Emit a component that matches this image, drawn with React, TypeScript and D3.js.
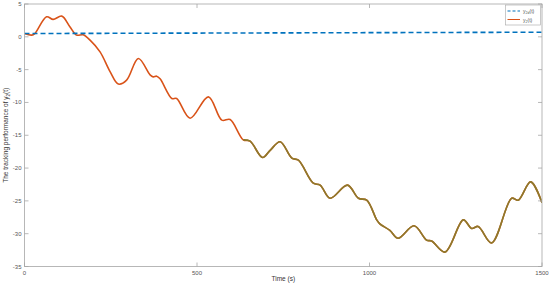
import React from "react";
import * as d3 from "d3";

const times = [0, 21, 30, 64, 83, 108, 132, 151, 170, 190, 219, 248, 272, 296, 330, 364, 373, 383, 393, 427, 441, 480, 533, 572, 596, 634, 654, 690, 712, 741, 775, 794, 837, 857, 886, 936, 968, 992, 1021, 1030, 1059, 1083, 1129, 1166, 1180, 1219, 1272, 1296, 1315, 1354, 1412, 1431, 1467, 1500];
const y2Values = [0.5, 0.26, 0.5, 3.05, 2.65, 3.15, 1.5, 0.26, 0.3, -0.5, -2.3, -5.3, -7.2, -6.6, -3.3, -5.8, -6.1, -6.0, -6.4, -9.4, -9.4, -12.4, -9.15, -12.7, -12.6, -15.7, -15.9, -18.4, -17.3, -16.0, -18.5, -18.8, -22.3, -22.6, -24.6, -22.6, -24.6, -24.9, -27.9, -28.5, -29.5, -30.7, -28.8, -31.0, -31.1, -32.8, -27.9, -29.2, -28.9, -31.4, -24.6, -24.9, -22.1, -25.3];
const y2dTimes = [0, 1500];
const y2dValues = [0.5, 0.7];
const overlayStart = 640;
const xTicks = [0, 500, 1000, 1500];
const yTicks = [5, 0, -5, -10, -15, -20, -25, -30, -35];

const W = 550, H = 287;
const L = 24.5, R = 542, T = 4, B = 266.5;

export default function App() {
  const x = d3.scaleLinear().domain([0, 1500]).range([L, R]);
  const y = d3.scaleLinear().domain([-35, 5]).range([B, T]);
  const pts = times.map((t, i) => [t, y2Values[i]] as [number, number]);
  const line = d3.line<[number, number]>().x(d => x(d[0])).y(d => y(d[1])).curve(d3.curveCatmullRom.alpha(0.5));
  const redPath = line(pts) || "";
  const startIdx = times.findIndex(t => t >= overlayStart) - 1;
  const olivePath = line(pts.slice(startIdx)) || "";
  const dPts = y2dTimes.map((t, i) => [t, y2dValues[i]] as [number, number]);
  const dPath = d3.line<[number, number]>().x(d => x(d[0])).y(d => y(d[1]))(dPts) || "";
  const axisColor = "#a6a6a6";
  const textColor = "#555";
  const font = "Liberation Sans, Arial, sans-serif";
  return (
    <svg width={W} height={H} style={{ position: "absolute", left: 0, top: 0 }} fontFamily={font}>
      <rect x={0} y={0} width={W} height={H} fill="#fff" />
      <defs>
        <clipPath id="clip"><rect x={L} y={T} width={R - L} height={B - T} /></clipPath>
      </defs>
      <g clipPath="url(#clip)">
        <path d={redPath} fill="none" stroke="#D95319" strokeWidth={1.6} />
        <path d={olivePath} fill="none" stroke="#8C7A2C" strokeWidth={1.6} />
        <path d={dPath} fill="none" stroke="#0072BD" strokeWidth={1.6} strokeDasharray="5,3" />
      </g>
      <rect x={L} y={T} width={R - L} height={B - T} fill="none" stroke={axisColor} strokeWidth={0.8} />
      {xTicks.map(t => (
        <g key={"x" + t}>
          <line x1={x(t)} x2={x(t)} y1={B} y2={B - 4} stroke={axisColor} strokeWidth={0.8} />
          <line x1={x(t)} x2={x(t)} y1={T} y2={T + 4} stroke={axisColor} strokeWidth={0.8} />
          <text x={x(t)} y={B + 8} fontSize={6} fill={textColor} textAnchor="middle">{t}</text>
        </g>
      ))}
      {yTicks.map(t => (
        <g key={"y" + t}>
          <line x1={L} x2={L + 4} y1={y(t)} y2={y(t)} stroke={axisColor} strokeWidth={0.8} />
          <line x1={R} x2={R - 4} y1={y(t)} y2={y(t)} stroke={axisColor} strokeWidth={0.8} />
          <text x={L - 3} y={y(t) + 2} fontSize={6} fill={textColor} textAnchor="end">{t}</text>
        </g>
      ))}
      <text x={(L + R) / 2} y={281} fontSize={6.5} fill="#333" textAnchor="middle">Time (s)</text>
      <text transform={`translate(8,${(T + B) / 2}) rotate(-90)`} fontSize={6.5} fill="#333" textAnchor="middle">
        The tracking performance of y<tspan fontSize={4.5} dy={1.5}>2</tspan><tspan dy={-1.5}>(t)</tspan>
      </text>
      <g>
        <rect x={505.5} y={5} width={35} height={20} fill="#fff" stroke={axisColor} strokeWidth={0.6} />
        <line x1={507.5} x2={520} y1={11} y2={11} stroke="#0072BD" strokeWidth={1.2} strokeDasharray="3,2" />
        <text x={523} y={13} fontSize={5} fill="#555">y<tspan fontSize={3.6} dy={1}>2d</tspan><tspan dy={-1}>(t)</tspan></text>
        <line x1={507.5} x2={520} y1={19.5} y2={19.5} stroke="#D95319" strokeWidth={1} />
        <text x={523} y={21.5} fontSize={5} fill="#555">y<tspan fontSize={3.6} dy={1}>2</tspan><tspan dy={-1}>(t)</tspan></text>
      </g>
    </svg>
  );
}
